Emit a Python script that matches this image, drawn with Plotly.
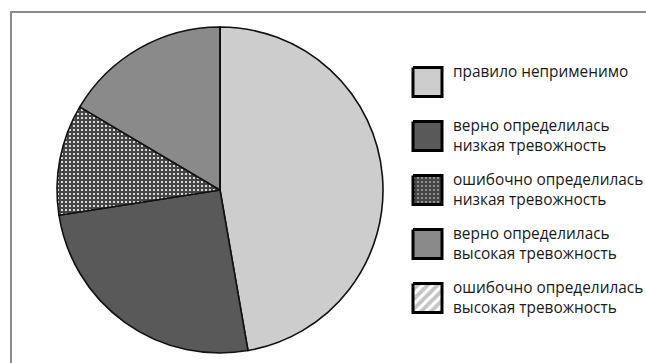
import plotly.graph_objects as go

# ---- data ----
labels = [
    "правило неприменимо",
    "верно определилась\nнизкая тревожность",
    "ошибочно определилась\nнизкая тревожность",
    "верно определилась\nвысокая тревожность",
    "ошибочно определилась\nвысокая тревожность",
]
values = [43, 23, 10, 15, 0]

# ---- styles ----
fills = ["#cdcdcd", "#595959", "#454545", "#8a8a8a", "#ffffff"]
shapes_pat = ["", "", ".", "", "/"]
pat_fg = ["#000000", "#000000", "#ffffff", "#000000", "#8a8a8a"]
pat_size = [8, 8, 4, 8, 7]
pat_sol = [0.3, 0.3, 0.22, 0.3, 0.55]

W, H = 646, 363

fig = go.Figure()

fig.add_trace(go.Pie(
    labels=[l.replace("\n", " ") for l in labels],
    values=values,
    sort=False,
    direction="clockwise",
    rotation=0,
    textinfo="none",
    hoverinfo="label+percent",
    showlegend=False,
    marker=dict(
        colors=fills,
        line=dict(color="#111111", width=1.6),
        pattern=dict(shape=shapes_pat, fgcolor=pat_fg, bgcolor=fills,
                     size=pat_size, solidity=pat_sol),
    ),
    domain=dict(x=[57 / W, 383 / W], y=[1 - 353 / H, 1 - 27 / H]),
))

# ---- custom legend (swatches + text) ----
box_x0, box_x1 = 413, 442
text_x = 451
first_c, step, half = 82, 54, 14.5
annotations = []
for i, lab in enumerate(labels):
    cy = first_c + step * i
    fig.add_trace(go.Scatter(
        x=[box_x0, box_x1, box_x1, box_x0, box_x0],
        y=[cy - half, cy - half, cy + half, cy + half, cy - half],
        mode="lines",
        fill="toself",
        fillcolor=fills[i],
        fillpattern=dict(shape=shapes_pat[i], fgcolor=pat_fg[i], bgcolor=fills[i],
                         size=pat_size[i], solidity=pat_sol[i]),
        line=dict(color="#000000", width=3),
        hoverinfo="skip",
        showlegend=False,
        xaxis="x", yaxis="y",
    ))
    for j, line in enumerate(lab.split("\n")):
        annotations.append(dict(
            x=text_x, y=cy - 11 + 20 * j, xref="x", yref="y",
            text=line, showarrow=False, xanchor="left", yanchor="middle",
            font=dict(family="Open Sans", size=15.4, color="#1a1a1a"),
        ))

fig.update_layout(
    width=W, height=H,
    margin=dict(l=0, r=0, t=0, b=0),
    paper_bgcolor="white", plot_bgcolor="rgba(0,0,0,0)",
    xaxis=dict(range=[0, W], visible=False, fixedrange=True, domain=[0, 1]),
    yaxis=dict(range=[H, 0], visible=False, fixedrange=True, domain=[0, 1]),
    annotations=annotations,
    shapes=[
        dict(type="line", xref="paper", yref="paper", x0=10 / W, x1=1.02,
             y0=1 - 12 / H, y1=1 - 12 / H, line=dict(color="#8c8c8c", width=2)),
        dict(type="line", xref="paper", yref="paper", x0=11 / W, x1=11 / W,
             y0=1 - 12 / H, y1=-0.02, line=dict(color="#8c8c8c", width=2)),
    ],
    showlegend=False,
)

fig.write_html("out.html")
